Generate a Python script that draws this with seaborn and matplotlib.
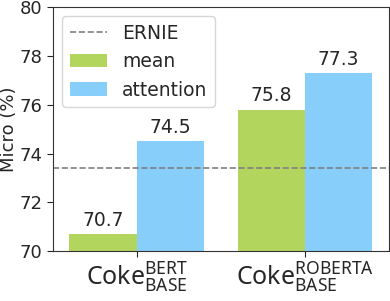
import matplotlib
matplotlib.use("Agg")
import matplotlib.pyplot as plt
import seaborn as sns
import pandas as pd

models = [r"Coke$^{\mathrm{BERT}}_{\mathrm{BASE}}$", r"Coke$^{\mathrm{ROBERTA}}_{\mathrm{BASE}}$"]
methods = ["mean", "attention"]
mean_vals = [70.7, 75.8]
attn_vals = [74.5, 77.3]
ernie = 73.4

df = pd.DataFrame({
    "model": models * 2,
    "method": ["mean"] * 2 + ["attention"] * 2,
    "value": mean_vals + attn_vals,
})

sns.set_style("white")
plt.rcParams["font.family"] = ["DejaVu Sans"]
plt.rcParams["mathtext.fontset"] = "custom"
plt.rcParams["mathtext.rm"] = "Noto Sans"
plt.rcParams["mathtext.it"] = "Noto Sans:italic"
plt.rcParams["mathtext.bf"] = "Noto Sans:bold"

fig, ax = plt.subplots(figsize=(3.9, 3.01), dpi=100)
palette = {"mean": "#b2d65d", "attention": "#87cefa"}
sns.barplot(data=df, x="model", y="value", hue="method", hue_order=methods,
            palette=palette, ax=ax, width=0.8, saturation=1, linewidth=0, gap=0)

for cont in ax.containers:
    ax.bar_label(cont, fmt="%.1f", fontsize=13.5, padding=3)

ax.axhline(ernie, color="gray", linestyle="--", linewidth=1.2, label="ERNIE")
ax.set_ylim(70, 80)
ax.set_yticks([70, 72, 74, 76, 78, 80])
ax.set_xlim(-0.5, 1.5)
ax.set_xlabel("")
ax.set_ylabel("Micro (%)", fontsize=13, labelpad=1)
ax.tick_params(axis="y", labelsize=13, left=True, length=4)
ax.tick_params(axis="x", labelsize=18, bottom=True, length=4, pad=3)
for lbl in ax.get_xticklabels():
    lbl.set_fontfamily(["Noto Sans", "DejaVu Sans"])

handles, labels = ax.get_legend_handles_labels()
order = [labels.index("ERNIE"), labels.index("mean"), labels.index("attention")]
ax.legend([handles[i] for i in order], [labels[i] for i in order],
          loc="upper left", fontsize=13.5, frameon=True)

for s in ax.spines.values():
    s.set_color("#333333")

fig.subplots_adjust(left=0.135, right=0.997, top=0.977, bottom=0.165)
fig.savefig("out.png", dpi=100)
